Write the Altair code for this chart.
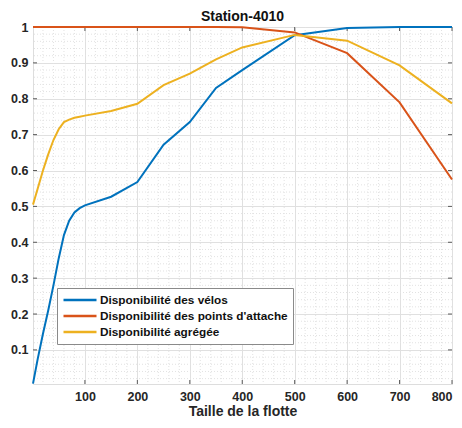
import altair as alt
import pandas as pd

# ---- data ----
x_vals = [1, 10, 20, 30, 40, 50, 60, 70, 80, 90, 100, 150, 200, 250, 300, 350, 400, 500, 600, 700, 800]
velos = [0.006, 0.075, 0.145, 0.21, 0.28, 0.355, 0.42, 0.46, 0.483, 0.495, 0.503, 0.527, 0.568,
         0.672, 0.735, 0.83, 0.88, 0.977, 0.997, 1.0, 1.0]
attache = [1.0, 1.0, 1.0, 1.0, 1.0, 1.0, 1.0, 1.0, 1.0, 1.0, 1.0, 1.0, 1.0, 1.0, 1.0, 1.0,
           0.999, 0.985, 0.927, 0.79, 0.575]
agregee = [0.505, 0.55, 0.60, 0.645, 0.685, 0.715, 0.735, 0.742, 0.747, 0.75, 0.753, 0.766, 0.786,
           0.838, 0.87, 0.91, 0.943, 0.978, 0.962, 0.893, 0.787]

names = ["Disponibilité des vélos", "Disponibilité des points d'attache", "Disponibilité agrégée"]
colors = ["#0072BD", "#D95319", "#EDB120"]

major_x = [100, 200, 300, 400, 500, 600, 700, 800]
major_y = [0.1, 0.2, 0.3, 0.4, 0.5, 0.6, 0.7, 0.8, 0.9, 1.0]
minor_x = [v for v in range(20, 800, 20) if v % 100 != 0]
minor_y = [round(i * 0.02, 2) for i in range(1, 50) if i % 5 != 0]

df = pd.DataFrame({"x": x_vals, names[0]: velos, names[1]: attache, names[2]: agregee})
df = df.melt("x", var_name="serie", value_name="y")

W, H = 419, 357
FONT = "Liberation Sans"
xs = alt.Scale(domain=[1, 800], nice=False, zero=False)
ys = alt.Scale(domain=[0.005, 1], nice=False, zero=False)
x_axis = alt.Axis(values=major_x, title="Taille de la flotte", ticks=False, domain=False,
                  grid=True, gridColor="#e0e0e0", labelPadding=6, titlePadding=2,
                  labelFontSize=12.5, titleFontSize=14, labelFontWeight="bold",
                  titleFontWeight="bold", labelFont=FONT, titleFont=FONT,
                  labelColor="#262626", titleColor="#262626")
y_axis = alt.Axis(values=major_y, format="~g", title=None, ticks=False, domain=False,
                  grid=True, gridColor="#e0e0e0", labelPadding=5, labelFontSize=12.5,
                  labelFontWeight="bold", labelFont=FONT, labelColor="#262626")

minor_style = dict(color="#e2e2e2", strokeDash=[1, 2], strokeWidth=1)
mgx = alt.Chart(pd.DataFrame({"v": minor_x})).mark_rule(**minor_style).encode(
    x=alt.X("v:Q", scale=xs, axis=x_axis))
mgy = alt.Chart(pd.DataFrame({"v": minor_y})).mark_rule(**minor_style).encode(
    y=alt.Y("v:Q", scale=ys, axis=y_axis))

tick_style = dict(color="#5a5a5a", strokeWidth=1)
tx = pd.DataFrame({"v": major_x})
ty = pd.DataFrame({"v": major_y})
tb = alt.Chart(tx).mark_rule(**tick_style).encode(
    x=alt.X("v:Q", scale=xs, axis=x_axis), y=alt.value(H), y2=alt.value(H - 4))
tt = alt.Chart(tx).mark_rule(**tick_style).encode(
    x=alt.X("v:Q", scale=xs, axis=x_axis), y=alt.value(0), y2=alt.value(4))
tl = alt.Chart(ty).mark_rule(**tick_style).encode(
    y=alt.Y("v:Q", scale=ys, axis=y_axis), x=alt.value(0), x2=alt.value(4))
tr = alt.Chart(ty).mark_rule(**tick_style).encode(
    y=alt.Y("v:Q", scale=ys, axis=y_axis), x=alt.value(W - 4), x2=alt.value(W))

lines = alt.Chart(df).mark_line(strokeWidth=2, clip=False).encode(
    x=alt.X("x:Q", scale=xs, axis=x_axis),
    y=alt.Y("y:Q", scale=ys, axis=y_axis),
    color=alt.Color("serie:N", scale=alt.Scale(domain=names, range=colors),
                    legend=alt.Legend(title=None, orient="none", legendX=24, legendY=261,
                                      fillColor="white", strokeColor="#8a8a8a", padding=5,
                                      symbolType="M-3,0H3", symbolSize=121, symbolStrokeWidth=2.5,
                                      symbolOffset=11,
                                      labelFont=FONT, labelFontWeight="bold", labelFontSize=11.8,
                                      labelColor="#111111", labelLimit=400, labelOffset=13,
                                      rowPadding=2)),
    order=alt.Order("x:Q"),
)

chart = alt.layer(mgx, mgy, tb, tt, tl, tr, lines).properties(
    width=W, height=H,
    title=alt.TitleParams("Station-4010", font=FONT, fontSize=14, fontWeight="bold",
                          color="#111111", anchor="middle", offset=6, dy=9, frame="group"),
    autosize=alt.AutoSizeParams(type="none"),
    padding={"left": 25, "top": 19, "right": 2, "bottom": 36},
).configure_view(stroke="#6e6e6e", strokeWidth=1).configure(background="white")

chart.save("out.html", embed_options={"renderer": "svg", "actions": False})
